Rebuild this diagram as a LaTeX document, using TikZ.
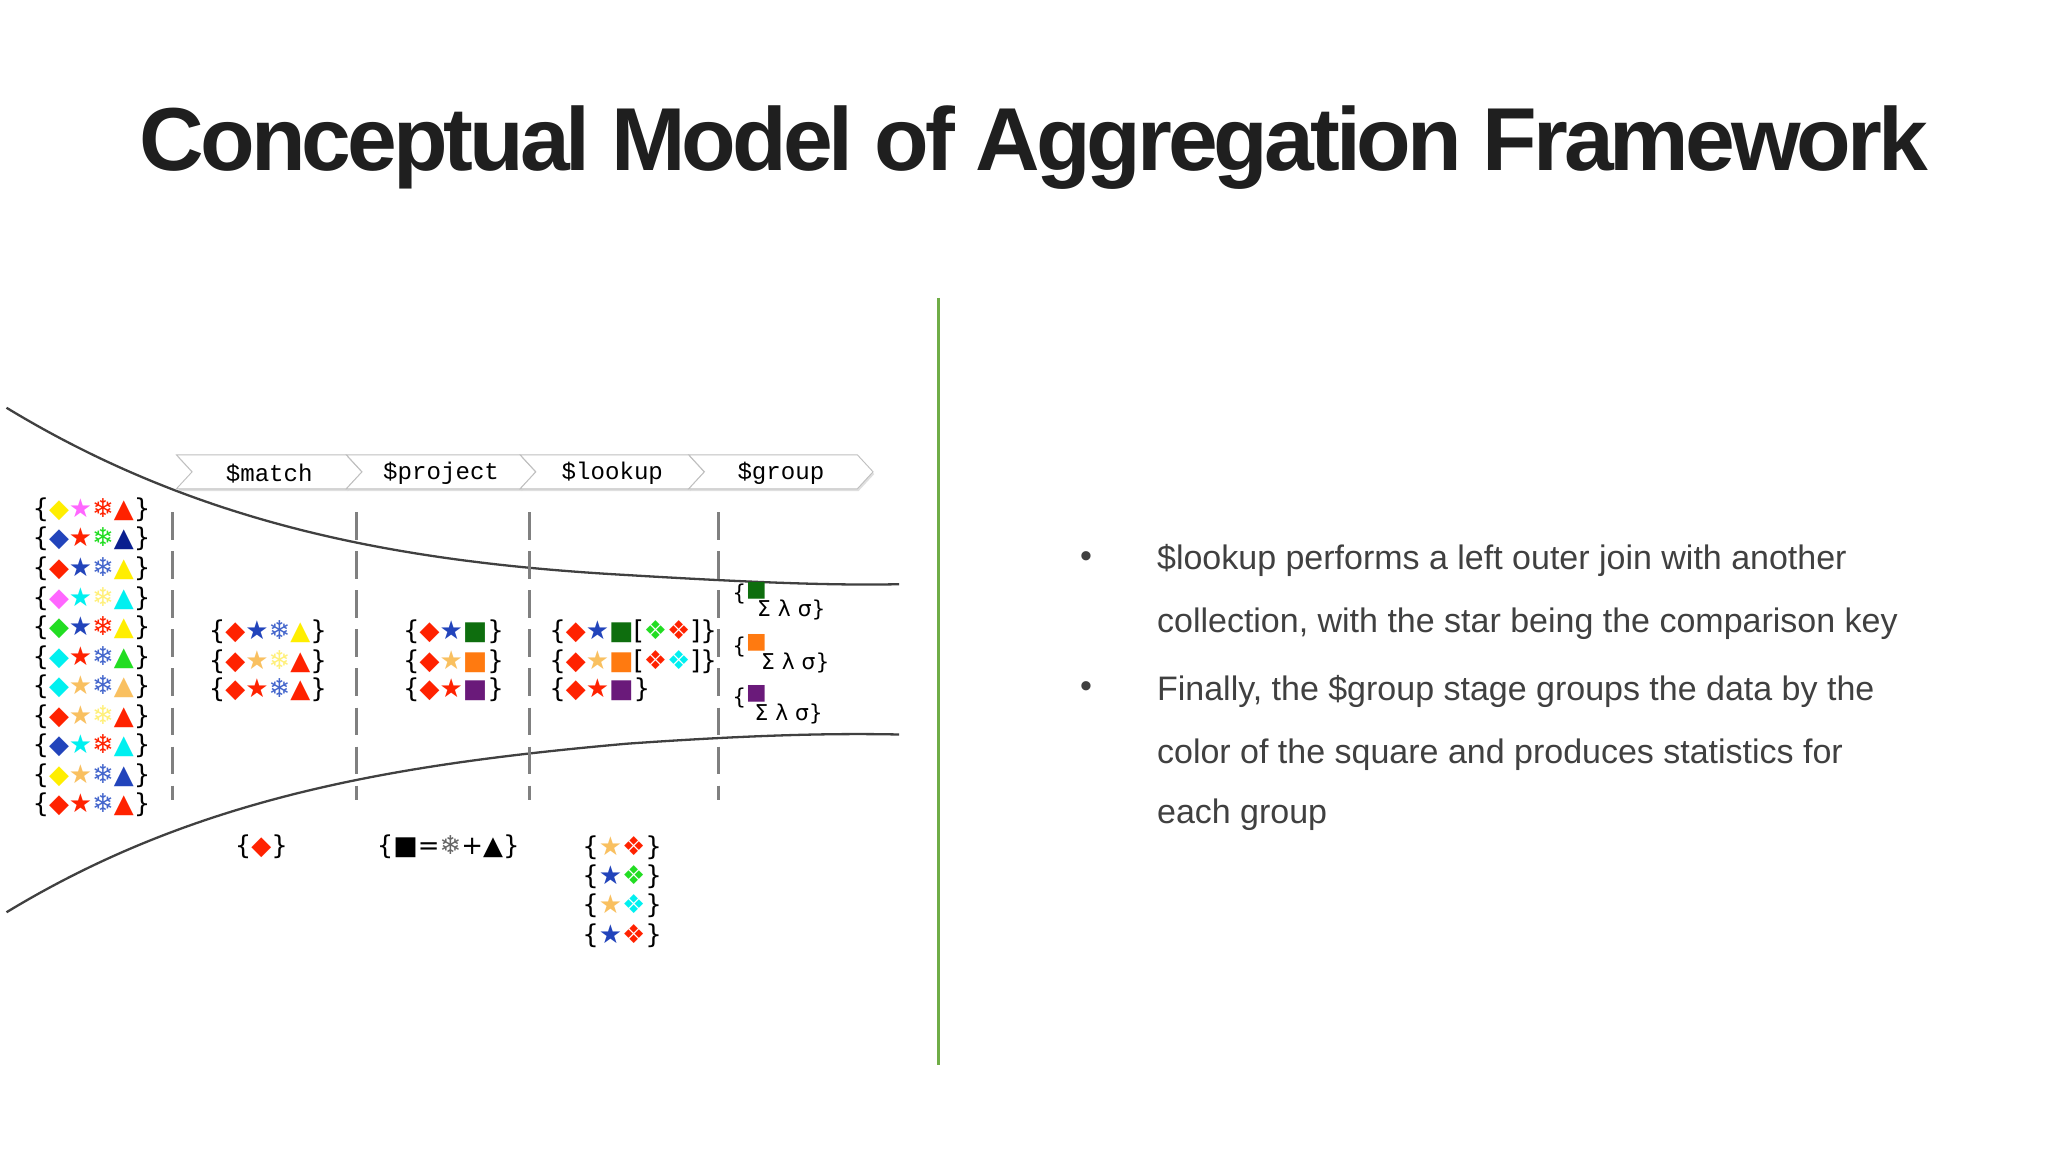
\documentclass[tikz,border=0pt]{standalone}
\usepackage{fontspec}
\setmainfont{Liberation Sans}
\newfontfamily\djv{DejaVu Sans}
\newfontfamily\cour{Liberation Mono}
\newfontfamily\titlefont[LetterSpace=-4.5]{Liberation Sans}
\usetikzlibrary{shadows}
\definecolor{cY}{HTML}{FFEE00}
\definecolor{cM}{HTML}{FF66FF}
\definecolor{cR}{HTML}{FF2200}
\definecolor{cB}{HTML}{2244BB}
\definecolor{cG}{HTML}{22DD22}
\definecolor{cN}{HTML}{0A1F8F}
\definecolor{cC}{HTML}{00F0F0}
\definecolor{cO}{HTML}{F9C060}
\definecolor{cL}{HTML}{FFF07A}
\definecolor{cS}{HTML}{4466CC}
\definecolor{cDG}{HTML}{0E6E0E}
\definecolor{cOr}{HTML}{FF7A10}
\definecolor{cP}{HTML}{6A1A7A}
\definecolor{grn}{HTML}{70AD47}
\definecolor{txt}{HTML}{404040}
\newcommand\gD[1]{\textcolor{#1}{◆}}
\newcommand\gS[1]{\textcolor{#1}{★}}
\newcommand\gF[1]{\textcolor{#1}{❄}}
\newcommand\gT[1]{\textcolor{#1}{▲}}
\newcommand\gQ[1]{\textcolor{#1}{■}}
\newcommand\gK[1]{\textcolor{#1}{❖}}
\begin{document}
\begin{tikzpicture}[x=0.02cm,y=-0.02cm,
  symrow/.style={inner sep=0pt,font=\djv\fontsize{11.3}{12}\selectfont},
  stagelbl/.style={inner sep=0pt,font=\cour\fontsize{10.5}{12}\selectfont},
  bodytxt/.style={inner sep=0pt,anchor=base west,text=txt,font=\fontsize{14.8}{17}\selectfont},
  chev/.style={draw=black!25,fill=white,drop shadow={shadow xshift=0.5pt,shadow yshift=-1pt,opacity=0.25}},
  stagesep/.style={draw=black!50,line width=1.4pt,dash pattern=on 12pt off 5pt},
  funnel/.style={draw=black!75,line width=1pt}]
\useasboundingbox (0,0) rectangle (1567,881);
\fill[white] (0,0) rectangle (1567,881);
% title
\node[inner sep=0pt] (title) (title) at (791,113) {\resizebox{27.36cm}{!}{\titlefont\fontsize{44}{50}\selectfont\bfseries\color{black!88}Conceptual Model of Aggregation Framework}};
% green divider
\coordinate (g1) at (718,228); \coordinate (g2) at (718,815);
\draw[grn,line width=1.6pt] (g1) -- (g2);
% bullets
\node[bodytxt] (b1) at (826,434) {\textbullet};
\node[bodytxt] (b2) at (826,534) {\textbullet};
\node[bodytxt] (t1) at (885,436) {\$lookup performs a left outer join with another};
\node[bodytxt] (t2) at (885,484) {collection, with the star being the comparison key};
\node[bodytxt] (t3) at (885,536) {Finally, the \$group stage groups the data by the};
\node[bodytxt] (t4) at (885,584) {color of the square and produces statistics for};
\node[bodytxt] (t5) at (885,630) {each group};
% funnel curves
\coordinate (u0) at (5,312); \coordinate (u1) at (688,447);
\coordinate (l0) at (5,698); \coordinate (l1) at (688,562);
\draw[funnel] (u0) .. controls (150,400) and (300,430) .. (480,440) .. controls (580,446) and (640,448) .. (u1);
\draw[funnel] (l0) .. controls (150,610) and (300,585) .. (480,569) .. controls (580,562) and (640,561) .. (l1);
% stage separators
\foreach \x/\n in {132/s1,273/s2,405/s3,550/s4}{
  \coordinate (\n a) at (\x,392); \coordinate (\n b) at (\x,612);
  \draw[stagesep] (\n a) -- (\n b);}
% chevrons
\foreach \a/\b/\n/\l in {135/265/c1/\$match,265/398/c2/\$project,398/527/c3/\$lookup,527/656/c4/\$group}{
  \draw[chev] (\a,348) -- (\b,348) -- (\b+12,361) -- (\b,374) -- (\a,374) -- (\a+12,361) -- cycle;
  \node[stagelbl] (\n) at ({(\a+\b)/2+6},362) {\l};}
% input documents
\foreach \i/\r in {
 1/{\gD{cY}\gS{cM}\gF{cR}\gT{cR}},
 2/{\gD{cB}\gS{cR}\gF{cG}\gT{cN}},
 3/{\gD{cR}\gS{cB}\gF{cS}\gT{cY}},
 4/{\gD{cM}\gS{cC}\gF{cL}\gT{cC}},
 5/{\gD{cG}\gS{cB}\gF{cR}\gT{cY}},
 6/{\gD{cC}\gS{cR}\gF{cS}\gT{cG}},
 7/{\gD{cC}\gS{cO}\gF{cS}\gT{cO}},
 8/{\gD{cR}\gS{cO}\gF{cL}\gT{cR}},
 9/{\gD{cB}\gS{cC}\gF{cR}\gT{cC}},
 10/{\gD{cY}\gS{cO}\gF{cS}\gT{cB}},
 11/{\gD{cR}\gS{cR}\gF{cS}\gT{cR}}}{
  \node[symrow] (in\i) at (70,{390+(\i-1)*22.6}) {\{\r\}};}
% match
\node[symrow] (m1) at (205,483) {\{\gD{cR}\gS{cB}\gF{cS}\gT{cY}\}};
\node[symrow] (m2) at (205,506) {\{\gD{cR}\gS{cO}\gF{cL}\gT{cR}\}};
\node[symrow] (m3) at (205,528) {\{\gD{cR}\gS{cR}\gF{cS}\gT{cR}\}};
% project
\node[symrow] (p1) at (347,483) {\{\gD{cR}\gS{cB}\gQ{cDG}\}};
\node[symrow] (p2) at (347,506) {\{\gD{cR}\gS{cO}\gQ{cOr}\}};
\node[symrow] (p3) at (347,528) {\{\gD{cR}\gS{cR}\gQ{cP}\}};
% lookup
\node[symrow,anchor=west] (k1) at (420,483) {\{\gD{cR}\gS{cB}\gQ{cDG}[\gK{cG}\gK{cR}]\}};
\node[symrow,anchor=west] (k2) at (420,506) {\{\gD{cR}\gS{cO}\gQ{cOr}[\gK{cR}\gK{cC}]\}};
\node[symrow,anchor=west] (k3) at (420,528) {\{\gD{cR}\gS{cR}\gQ{cP}\}};
% group
\foreach \n/\y/\c/\dx in {1/454/cDG/0,2/494/cOr/3,3/533/cP/-2}{
  \node[symrow,anchor=west,font=\djv\fontsize{9.5}{10}\selectfont] (gq\n) at (560,\y) {\{\raisebox{2pt}{\gQ{\c}}};
  \node[symrow,anchor=west,font=\djv\fontsize{9.5}{10}\selectfont] (gs\n) at ({579+\dx},{\y+13}) {Σ λ σ\}};}
% bottom specs
\node[symrow] (bm) at (200,648) {\{\gD{cR}\}};
\node[symrow] (bp) at (343,648) {\{■=\textcolor{black!60}{❄}+▲\}};
\node[symrow] (bl1) at (476,649) {\{\gS{cO}\gK{cR}\}};
\node[symrow] (bl2) at (476,671) {\{\gS{cB}\gK{cG}\}};
\node[symrow] (bl3) at (476,693) {\{\gS{cO}\gK{cC}\}};
\node[symrow] (bl4) at (476,716) {\{\gS{cB}\gK{cR}\}};
\end{tikzpicture}
\end{document}
